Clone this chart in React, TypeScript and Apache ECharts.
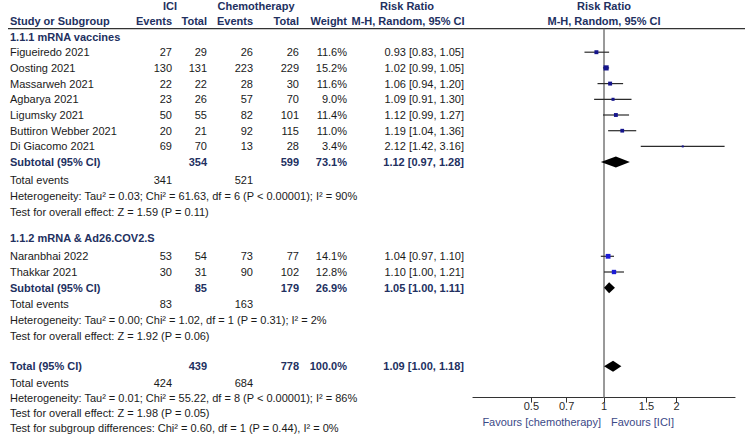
import React, { useEffect, useRef } from "react";
import * as echarts from "echarts";

// ---------- data ----------
const studies = [
  "Figueiredo 2021",
  "Oosting 2021",
  "Massarweh 2021",
  "Agbarya 2021",
  "Ligumsky 2021",
  "Buttiron Webber 2021",
  "Di Giacomo 2021",
  "Naranbhai 2022",
  "Thakkar 2021",
];
const iciEvents = [27, 130, 22, 23, 50, 20, 69, 53, 30];
const iciTotal = [29, 131, 22, 26, 55, 21, 70, 54, 31];
const chemoEvents = [26, 223, 28, 57, 82, 92, 13, 73, 90];
const chemoTotal = [26, 229, 30, 70, 101, 115, 28, 77, 102];
const weights = [11.6, 15.2, 11.6, 9.0, 11.4, 11.0, 3.4, 14.1, 12.8];
const riskRatio = [0.93, 1.02, 1.06, 1.09, 1.12, 1.19, 2.12, 1.04, 1.1];
const ciLow = [0.83, 0.99, 0.94, 0.91, 0.99, 1.04, 1.42, 0.97, 1.0];
const ciHigh = [1.05, 1.05, 1.2, 1.3, 1.27, 1.36, 3.16, 1.1, 1.21];
const studyGroup = [0, 0, 0, 0, 0, 0, 0, 1, 1];
const studyRows = [1, 2, 3, 4, 5, 6, 7, 14, 15];

const sectionTitles = ["1.1.1 mRNA vaccines", "1.1.2 mRNA & Ad26.COV2.S"];
const sectionRows = [0, 12.85];

const pooledLabels = ["Subtotal (95% CI)", "Subtotal (95% CI)", "Total (95% CI)"];
const pooledRows = [8, 16, 21];
const pooledIciTotal = [354, 85, 439];
const pooledChemoTotal = [599, 179, 778];
const pooledWeight = [73.1, 26.9, 100.0];
const pooledRR = [1.12, 1.05, 1.09];
const pooledLow = [0.97, 1.0, 1.0];
const pooledHigh = [1.28, 1.11, 1.18];

const totalEventsRows = [9.15, 17.05, 22.05];
const totalIciEvents = [341, 83, 424];
const totalChemoEvents = [521, 163, 684];

const noteRows = [10.15, 11.15, 18.05, 19.05, 23.05, 24, 24.95];
const notes = [
  "Heterogeneity: Tau\u00b2 = 0.03; Chi\u00b2 = 61.63, df = 6 (P < 0.00001); I\u00b2 = 90%",
  "Test for overall effect: Z = 1.59 (P = 0.11)",
  "Heterogeneity: Tau\u00b2 = 0.00; Chi\u00b2 = 1.02, df = 1 (P = 0.31); I\u00b2 = 2%",
  "Test for overall effect: Z = 1.92 (P = 0.06)",
  "Heterogeneity: Tau\u00b2 = 0.01; Chi\u00b2 = 55.22, df = 8 (P < 0.00001); I\u00b2 = 86%",
  "Test for overall effect: Z = 1.98 (P = 0.05)",
  "Test for subgroup differences: Chi\u00b2 = 0.60, df = 1 (P = 0.44), I\u00b2 = 0%",
];

const axisTicks = [0.5, 0.7, 1, 1.5, 2];
const axisMin = 0.2865;
const axisMax = 3.49;
const favourLeft = "Favours [chemotherapy]";
const favourRight = "Favours [ICI]";

// ---------- styles / layout ----------
const FONT = "'Liberation Sans', Arial, Helvetica, sans-serif";
const INK = "#1a1a1a";
const NAVY = "#22305f";
const FAV = "#3b4987";
const SQUARE_COLORS = ["#15158c", "#1c1cd6"];
const COL = { name: 10, iciEv: 172, iciTot: 207, chEv: 253, chTot: 299, weight: 347, rr: 464 };

type Cell = { text: string; x?: number; atOne?: boolean; align: "left" | "right" | "center"; bold?: boolean };
type Row = { row: number; cells: Cell[] };

const fmt2 = (v: number) => v.toFixed(2);
const ciText = (r: number, l: number, h: number) => `${fmt2(r)} [${fmt2(l)}, ${fmt2(h)}]`;

function buildTable(): Row[] {
  const rows: Row[] = [];
  rows.push({
    row: -1.95,
    cells: [
      { text: "ICI", x: 170, align: "center", bold: true },
      { text: "Chemotherapy", x: 256, align: "center", bold: true },
      { text: "Risk Ratio", x: 407, align: "center", bold: true },
      { text: "Risk Ratio", atOne: true, align: "center", bold: true },
    ],
  });
  rows.push({
    row: -1,
    cells: [
      { text: "Study or Subgroup", x: COL.name, align: "left", bold: true },
      { text: "Events", x: COL.iciEv, align: "right", bold: true },
      { text: "Total", x: COL.iciTot, align: "right", bold: true },
      { text: "Events", x: COL.chEv, align: "right", bold: true },
      { text: "Total", x: COL.chTot, align: "right", bold: true },
      { text: "Weight", x: COL.weight, align: "right", bold: true },
      { text: "M-H, Random, 95% CI", x: 408, align: "center", bold: true },
      { text: "M-H, Random, 95% CI", atOne: true, align: "center", bold: true },
    ],
  });
  sectionTitles.forEach((t, i) =>
    rows.push({ row: sectionRows[i], cells: [{ text: t, x: COL.name, align: "left", bold: true }] })
  );
  studies.forEach((s, i) =>
    rows.push({
      row: studyRows[i],
      cells: [
        { text: s, x: COL.name, align: "left" },
        { text: String(iciEvents[i]), x: COL.iciEv, align: "right" },
        { text: String(iciTotal[i]), x: COL.iciTot, align: "right" },
        { text: String(chemoEvents[i]), x: COL.chEv, align: "right" },
        { text: String(chemoTotal[i]), x: COL.chTot, align: "right" },
        { text: weights[i].toFixed(1) + "%", x: COL.weight, align: "right" },
        { text: ciText(riskRatio[i], ciLow[i], ciHigh[i]), x: COL.rr, align: "right" },
      ],
    })
  );
  pooledLabels.forEach((t, i) =>
    rows.push({
      row: pooledRows[i],
      cells: [
        { text: t, x: COL.name, align: "left", bold: true },
        { text: String(pooledIciTotal[i]), x: COL.iciTot, align: "right", bold: true },
        { text: String(pooledChemoTotal[i]), x: COL.chTot, align: "right", bold: true },
        { text: pooledWeight[i].toFixed(1) + "%", x: COL.weight, align: "right", bold: true },
        { text: ciText(pooledRR[i], pooledLow[i], pooledHigh[i]), x: COL.rr, align: "right", bold: true },
      ],
    })
  );
  totalEventsRows.forEach((r, i) =>
    rows.push({
      row: r,
      cells: [
        { text: "Total events", x: COL.name, align: "left" },
        { text: String(totalIciEvents[i]), x: COL.iciEv, align: "right" },
        { text: String(totalChemoEvents[i]), x: COL.chEv, align: "right" },
      ],
    })
  );
  notes.forEach((t, i) => rows.push({ row: noteRows[i], cells: [{ text: t, x: COL.name, align: "left" }] }));
  return rows;
}

const ln = (v: number) => Math.log(v);

export default function App() {
  const ref = useRef<HTMLDivElement>(null);

  useEffect(() => {
    if (!ref.current) return;
    const chart = echarts.init(ref.current, undefined, { renderer: "svg" });
    const table = buildTable();

    const textStyle = (text: string, align: string, bold?: boolean, color?: string) => ({
      text,
      fill: color || (bold ? NAVY : INK),
      fontSize: 11,
      fontFamily: FONT,
      fontWeight: bold ? "bold" : "normal",
      align,
      verticalAlign: "middle",
      textAlign: align,
      textVerticalAlign: "middle",
    });

    const option: any = {
      animation: false,
      backgroundColor: "#ffffff",
      grid: { left: 473, right: 10, top: 28.65, bottom: 38.4, containLabel: false },
      xAxis: {
        type: "value",
        min: ln(axisMin),
        max: ln(axisMax),
        axisLine: { show: true, onZero: false, lineStyle: { color: "#333333", width: 1.2 } },
        axisTick: { show: true, customValues: axisTicks.map(ln), length: 5, lineStyle: { color: "#333333", width: 1 } },
        axisLabel: {
          show: true,
          customValues: axisTicks.map(ln),
          formatter: (v: number) => String(+Math.exp(v).toFixed(2)),
          fontSize: 11,
          fontFamily: FONT,
          color: "#2a2a2a",
          margin: 3,
        },
        splitLine: { show: false },
      },
      yAxis: { type: "value", inverse: true, min: -0.5, max: 23, show: false },
      graphic: [
        {
          type: "line",
          shape: { x1: 8, y1: 28.65, x2: 745, y2: 28.65 },
          style: { stroke: "#333333", lineWidth: 1.2 },
          silent: true,
        },
      ],
      series: [
        {
          type: "line",
          data: [
            [ln(1), -0.5],
            [ln(1), 23],
          ],
          symbol: "none",
          lineStyle: { color: "#808080", width: 1.6 },
          z: 1,
          silent: true,
        },
        {
          type: "custom",
          silent: true,
          clip: false,
          z: 3,
          data: studies.map((_, i) => [ln(riskRatio[i]), studyRows[i], ln(ciLow[i]), ln(ciHigh[i]), weights[i], studyGroup[i]]),
          encode: { x: 0, y: 1 },
          renderItem: (_p: any, api: any) => {
            const row = api.value(1);
            const c = api.coord([api.value(0), row]);
            const l = api.coord([api.value(2), row]);
            const h = api.coord([api.value(3), row]);
            const s = Math.max(2, api.value(4) * 0.34);
            return {
              type: "group",
              children: [
                {
                  type: "line",
                  shape: { x1: l[0], y1: l[1], x2: h[0], y2: h[1] },
                  style: { stroke: "#2b2b2b", lineWidth: 1.2 },
                },
                {
                  type: "rect",
                  shape: { x: c[0] - s / 2, y: c[1] - s / 2, width: s, height: s },
                  style: { fill: SQUARE_COLORS[api.value(5)] },
                },
              ],
            };
          },
        },
        {
          type: "custom",
          silent: true,
          clip: false,
          z: 3,
          data: pooledRR.map((r, i) => [ln(r), pooledRows[i], ln(pooledLow[i]), ln(pooledHigh[i])]),
          encode: { x: 0, y: 1 },
          renderItem: (_p: any, api: any) => {
            const row = api.value(1);
            const c = api.coord([api.value(0), row]);
            const l = api.coord([api.value(2), row]);
            const h = api.coord([api.value(3), row]);
            const hh = 5.5;
            return {
              type: "polygon",
              shape: {
                points: [
                  [l[0], l[1]],
                  [c[0], c[1] - hh],
                  [h[0], h[1]],
                  [c[0], c[1] + hh],
                ],
              },
              style: { fill: "#000000" },
            };
          },
        },
        {
          type: "custom",
          silent: true,
          clip: false,
          z: 4,
          data: table.map((r) => [ln(1), r.row]),
          encode: { x: 0, y: 1 },
          renderItem: (p: any, api: any) => {
            const r = table[p.dataIndex];
            const pt = api.coord([ln(1), r.row]);
            return {
              type: "group",
              children: r.cells.map((c) => ({
                type: "text",
                x: c.atOne ? pt[0] : (c.x as number),
                y: pt[1],
                style: textStyle(c.text, c.align, c.bold),
              })),
            };
          },
        },
        {
          type: "custom",
          silent: true,
          clip: false,
          z: 4,
          data: [[ln(1), 23]],
          encode: { x: 0, y: 1 },
          renderItem: (_p: any, api: any) => {
            const pt = api.coord([api.value(0), api.value(1)]);
            return {
              type: "group",
              children: [
                { type: "text", x: pt[0] - 3, y: pt[1] + 24.5, style: textStyle(favourLeft, "right", false, FAV) },
                { type: "text", x: pt[0] + 7, y: pt[1] + 24.5, style: textStyle(favourRight, "left", false, FAV) },
              ],
            };
          },
        },
      ],
    };
    chart.setOption(option);
    return () => chart.dispose();
  }, []);

  return (
    <div
      ref={ref}
      style={{ position: "fixed", left: 0, top: 0, width: 745, height: 436, background: "#fff" }}
    />
  );
}
